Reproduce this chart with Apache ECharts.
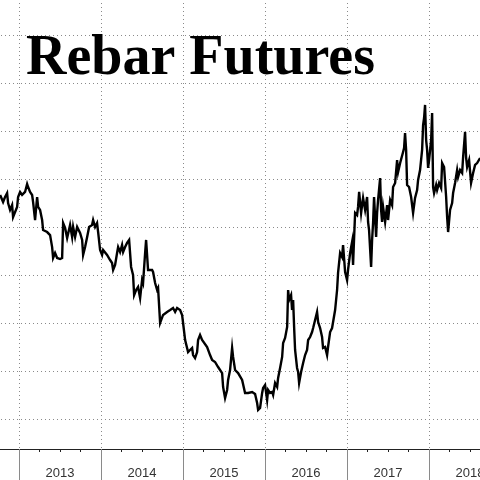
<!DOCTYPE html>
<html><head><meta charset="utf-8">
<script src="https://cdn.jsdelivr.net/npm/echarts@6/dist/echarts.min.js"></script>
<style>
html,body{margin:0;padding:0;background:#fff;width:480px;height:480px;overflow:hidden;position:relative}
#c{position:absolute;left:-63px;top:-13px;width:574px;height:493px}
#t{position:absolute;left:0;top:0;width:480px;height:480px;pointer-events:none}
</style>
</head><body><div id="c"></div><div id="t"></div>
<script>
const titleText = 'Rebar Futures';
const yearMin = 2012, yearMax = 2019;
const gridMin = 1600, gridMax = 5200, gridStep = 400;
// decimal years
const dates = [
2012.770,2012.794,2012.806,2012.830,2012.855,2012.867,2012.891,2012.916,2012.928,2012.952,2012.977,2012.989,
2013.013,2013.038,2013.050,2013.074,2013.099,2013.111,2013.135,2013.160,2013.172,2013.196,2013.221,2013.233,
2013.257,2013.282,2013.294,2013.343,2013.379,2013.404,2013.416,2013.440,2013.465,2013.501,2013.526,2013.538,
2013.562,2013.587,2013.623,2013.648,2013.660,2013.684,2013.709,2013.745,
2013.770,2013.782,2013.806,2013.831,2013.855,2013.891,2013.904,2013.928,2013.952,2013.965,2013.989,2014.013,
2014.026,2014.050,2014.074,2014.087,2014.111,2014.135,2014.148,2014.172,2014.196,2014.209,2014.233,2014.257,
2014.270,2014.294,2014.318,2014.343,2014.367,2014.391,2014.404,2014.428,2014.452,2014.477,2014.501,2014.513,
2014.538,2014.550,2014.562,2014.574,2014.623,2014.635,2014.660,2014.684,2014.696,2014.721,
2014.745,2014.757,2014.806,2014.843,2014.879,2014.904,2014.928,2014.965,2014.989,2015.001,2015.026,2015.062,
2015.086,2015.111,2015.123,2015.147,2015.172,2015.184,2015.208,2015.233,2015.245,2015.294,2015.330,2015.355,
2015.391,2015.428,2015.452,2015.477,2015.489,2015.513,2015.538,2015.550,2015.574,2015.599,2015.611,2015.635,
2015.672,2015.721,2015.757,2015.794,2015.843,2015.879,
2015.904,2015.916,2015.940,2015.965,2015.977,2016.001,2016.026,2016.038,2016.062,2016.087,2016.099,2016.123,
2016.148,2016.160,2016.184,2016.209,2016.221,2016.245,2016.270,2016.282,2016.294,2016.318,2016.330,2016.343,
2016.355,2016.367,2016.391,2016.404,2016.416,2016.440,2016.465,2016.489,2016.513,2016.526,2016.550,2016.574,
2016.587,2016.611,2016.635,2016.648,2016.672,2016.696,2016.708,2016.733,2016.757,2016.769,2016.794,2016.818,
2016.830,2016.855,2016.879,2016.891,
2016.916,2016.940,2016.952,2016.977,2017.001,2017.013,2017.038,2017.062,2017.074,2017.087,2017.099,2017.123,
2017.135,2017.148,2017.172,2017.184,2017.196,2017.221,2017.245,2017.257,2017.269,2017.294,2017.306,2017.318,
2017.330,2017.355,2017.367,2017.379,2017.404,2017.416,2017.428,2017.440,2017.465,2017.489,2017.501,2017.526,
2017.550,2017.562,2017.587,2017.611,2017.623,2017.648,2017.672,2017.684,2017.696,2017.708,2017.721,2017.733,
2017.757,2017.782,2017.794,
2017.806,2017.830,2017.855,2017.867,2017.891,2017.916,2017.928,2017.940,2017.952,2017.965,2017.977,2017.989,
2018.001,2018.026,2018.038,2018.050,2018.062,2018.087,2018.099,2018.123,2018.148,2018.160,2018.184,2018.209,
2018.221,2018.233,2018.257,2018.282,2018.294,2018.318,2018.343,2018.355,2018.379,2018.404,2018.416,2018.440,
2018.452,2018.465,2018.489,2018.513,2018.538,2018.562,2018.587,2018.599,2018.623
];
const prices = [
3467,3483,3408,3450,3483,3400,3342,3383,3283,3283,3367,3450,
3492,3467,3483,3492,3558,3533,3492,3467,3408,3258,3450,3367,
3342,3258,3175,3158,3133,3033,2942,2983,2942,2933,2942,3233,
3192,3108,3217,3117,3200,3117,3200,3150,
3092,2967,3033,3117,3200,3217,3258,3200,3233,3158,3008,2967,
3008,2992,2967,2983,2925,2900,2842,2883,2983,3033,2992,3050,
2992,3033,3067,3092,2867,2800,2633,2675,2700,2608,2758,2733,
2983,3092,2967,2842,2842,2825,2733,2675,2692,2400,
2400,2467,2492,2508,2525,2492,2525,2508,2467,2400,2258,2158,
2175,2192,2133,2108,2158,2258,2300,2258,2242,2200,2133,2092,
2075,2033,2025,1983,1867,1775,1842,1925,2008,2192,2117,2008,
1983,1925,1817,1817,1825,1808,
1733,1675,1692,1817,1858,1883,1758,1842,1817,1825,1800,1900,
1867,1942,2025,2117,2233,2275,2367,2675,2592,2633,2508,2592,
2367,2175,2025,1992,1900,1992,2067,2133,2175,2258,2283,2325,
2358,2425,2492,2408,2358,2283,2192,2200,2133,2200,2325,2358,
2358,2508,2675,2817,
2983,2950,3050,2825,2758,2842,2983,3075,2883,3117,3317,3300,
3367,3492,3317,3383,3442,3342,3450,3242,3175,2867,3092,3233,
3450,3117,3317,3425,3608,3342,3242,3367,3242,3383,3258,3425,
3383,3533,3567,3758,3658,3733,3717,3825,3858,3983,3842,3550,
3533,3450,3450,
3317,3442,3508,3592,3675,3842,4050,4108,4217,3925,3842,3692,
3758,3925,4150,3533,3483,3550,3508,3567,3525,3733,3700,3450,
3283,3158,3342,3400,3483,3567,3675,3617,3675,3650,3783,3992,
3783,3700,3758,3567,3650,3717,3733,3742,3775
];
const seriesData = dates.map((d, i) => [d, prices[i]]);

const chart = echarts.init(document.getElementById('c'), null, {renderer: 'canvas'});
chart.setOption({
  animation: false,
  backgroundColor: '#ffffff',
  grid: [
    {left: 0, right: 0, top: 0, bottom: 31, containLabel: false, outerBoundsMode: 'none'},
    {left: 0, right: 0, top: 0, bottom: 61, containLabel: false, outerBoundsMode: 'none'}
  ],
  xAxis: [
    {
      type: 'value', gridIndex: 0, min: yearMin, max: yearMax, interval: 1,
      axisLine: {show: true, onZero: false, lineStyle: {color: '#222', width: 1}},
      axisTick: {show: true, length: 31, lineStyle: {color: '#8a8a8a', width: 1}},
      minorTick: {show: true, splitNumber: 4, length: 3, lineStyle: {color: '#222', width: 1}},
      splitLine: {show: true, lineStyle: {color: '#8a8a8a', width: 1, type: [1, 3]}},
      axisLabel: {
        show: true, formatter: v => String(Math.round(v)),
        padding: [0, 0, 0, 82], margin: 18, color: '#333', fontSize: 13,
        fontFamily: 'Liberation Sans'
      }
    },
    {type: 'value', gridIndex: 1, min: 0, max: 1, show: false}
  ],
  yAxis: [
    {type: 'value', gridIndex: 0, min: 1350, max: gridMax, show: false},
    {
      type: 'value', gridIndex: 1, min: gridMin, max: gridMax, interval: gridStep,
      axisLine: {show: false}, axisTick: {show: false}, axisLabel: {show: false},
      splitLine: {show: true, lineStyle: {color: '#8a8a8a', width: 1, type: [1, 3]}}
    }
  ],
  series: [{
    type: 'line', xAxisIndex: 0, yAxisIndex: 0, data: seriesData,
    symbol: 'none', lineStyle: {color: '#000', width: 2.4, join: 'miter'}, z: 5
  }]
});

const titleChart = echarts.init(document.getElementById('t'), null, {renderer: 'canvas'});
titleChart.setOption({
  animation: false,
  graphic: [{
    type: 'text', left: 26, top: 32, z: 100,
    style: {text: titleText, font: 'bold 56px "Liberation Serif"', fill: '#000'}
  }]
});
</script></body></html>
